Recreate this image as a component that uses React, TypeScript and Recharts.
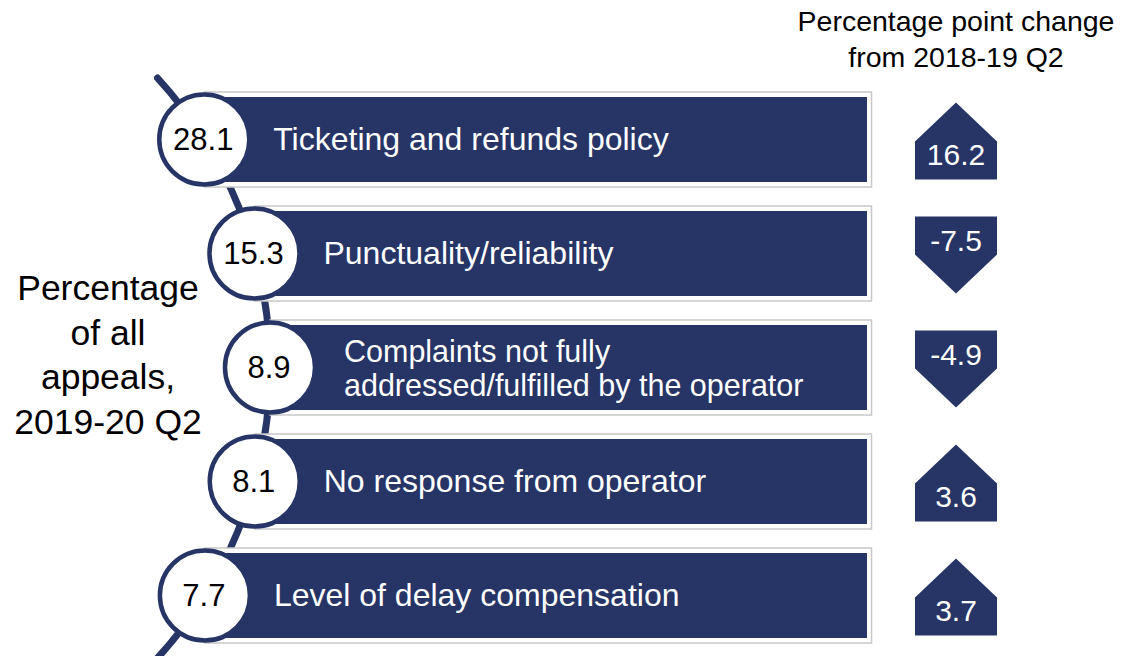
import { BarChart, Bar, XAxis, YAxis, Customized } from "recharts";

const TOPICS = [
  "Ticketing and refunds policy",
  "Punctuality/reliability",
  "Complaints not fully\naddressed/fulfilled by the operator",
  "No response from operator",
  "Level of delay compensation",
];
const SHARE_2019_20_Q2 = [28.1, 15.3, 8.9, 8.1, 7.7];
const CHANGE_FROM_2018_19_Q2 = [16.2, -7.5, -4.9, 3.6, 3.7];

const LEFT_TITLE = ["Percentage", "of all", "appeals,", "2019-20 Q2"];
const RIGHT_TITLE = ["Percentage point change", "from 2018-19 Q2"];

const NAVY = "#263466";
const FONT = "'Liberation Sans', Arial, sans-serif";

// the spine is an arc of a big circle; the value discs sit on it
const ARC_CX = -160;
const ARC_CY = 368;
const ARC_R = 430;
const BAR_RIGHT = 867;
const ARROW_CX = 956;

const arcX = (y: number) => {
  const dy = y - ARC_CY;
  return ARC_CX + Math.sqrt(Math.max(ARC_R * ARC_R - dy * dy, 0));
};

const data = TOPICS.map((topic, i) => ({
  topic,
  share: SHARE_2019_20_Q2[i],
  change: CHANGE_FROM_2018_19_Q2[i],
}));

function Spine() {
  const y0 = 78;
  const y1 = 660;
  return (
    <path
      d={`M${arcX(y0)},${y0} A${ARC_R},${ARC_R} 0 0 1 ${arcX(y1)},${y1}`}
      fill="none"
      stroke={NAVY}
      strokeWidth={7}
      strokeLinecap="round"
    />
  );
}

function Titles() {
  return (
    <g fontFamily={FONT}>
      {LEFT_TITLE.map((line, i) => (
        <text key={line} x={108} y={300 + i * 44.7} textAnchor="middle" fontSize={35.5} fill="#000">
          {line}
        </text>
      ))}
      {RIGHT_TITLE.map((line, i) => (
        <text key={line} x={956} y={31 + i * 35.5} textAnchor="middle" fontSize={28.5} fill="#000">
          {line}
        </text>
      ))}
    </g>
  );
}

function Banner(props: any) {
  const { y, height, payload } = props;
  const c = y + height / 2;
  const cx = arcX(c);
  const lines = String(payload.topic).split("\n");
  const textX = cx + 69;
  return (
    <g fontFamily={FONT}>
      <rect
        x={cx}
        y={y - 5}
        width={BAR_RIGHT + 4.5 - cx}
        height={height + 10}
        fill="#fff"
        stroke="#c8c8c8"
        strokeWidth={1.5}
      />
      <rect x={cx} y={y} width={BAR_RIGHT - cx} height={height} fill={NAVY} />
      {lines.length === 1 ? (
        <text x={textX} y={c + 10} fontSize={32} fill="#fff">
          {lines[0]}
        </text>
      ) : (
        lines.map((line, i) => (
          <text key={i} x={textX + 5} y={c - 6 + i * 34} fontSize={30.5} fill="#fff">
            {line}
          </text>
        ))
      )}
      <circle cx={cx} cy={c} r={45} fill="#fff" stroke={NAVY} strokeWidth={4.5} />
      <text x={cx - 1} y={c + 10} textAnchor="middle" fontSize={31} fill="#000">
        {payload.share.toFixed(1)}
      </text>
    </g>
  );
}

function ChangeArrow(props: any) {
  const { y, height, payload } = props;
  const c = y + height / 2;
  const v = payload.change;
  const hw = 41;
  const l = ARROW_CX - hw;
  const r = ARROW_CX + hw;
  const top = c - 37;
  const bottom = c + 40;
  let d: string;
  let ty: number;
  if (v >= 0) {
    const sh = c + 2;
    d = `M${ARROW_CX},${top} L${r},${sh} L${r},${bottom} L${l},${bottom} L${l},${sh} Z`;
    ty = c + 25;
  } else {
    const sh = c + 1;
    d = `M${l},${top} L${r},${top} L${r},${sh} L${ARROW_CX},${bottom} L${l},${sh} Z`;
    ty = c - 3;
  }
  return (
    <g fontFamily={FONT}>
      <path d={d} fill={NAVY} />
      <text x={ARROW_CX} y={ty} textAnchor="middle" fontSize={30} fill="#fff">
        {v.toFixed(1)}
      </text>
    </g>
  );
}

export default function App() {
  return (
    <div style={{ position: "absolute", left: 0, top: 0, width: 1121, height: 656, background: "#fff" }}>
      <BarChart
        width={1121}
        height={656}
        data={data}
        layout="vertical"
        margin={{ top: 82, right: 0, bottom: 4, left: 0 }}
        barSize={85}
      >
        <XAxis type="number" hide domain={[-20, 60]} />
        <YAxis type="category" dataKey="topic" hide />
        <Customized component={Spine} />
        <Bar dataKey="share" stackId="row" isAnimationActive={false} shape={Banner} />
        <Bar dataKey="change" stackId="row" isAnimationActive={false} shape={ChangeArrow} />
        <Customized component={Titles} />
      </BarChart>
    </div>
  );
}
